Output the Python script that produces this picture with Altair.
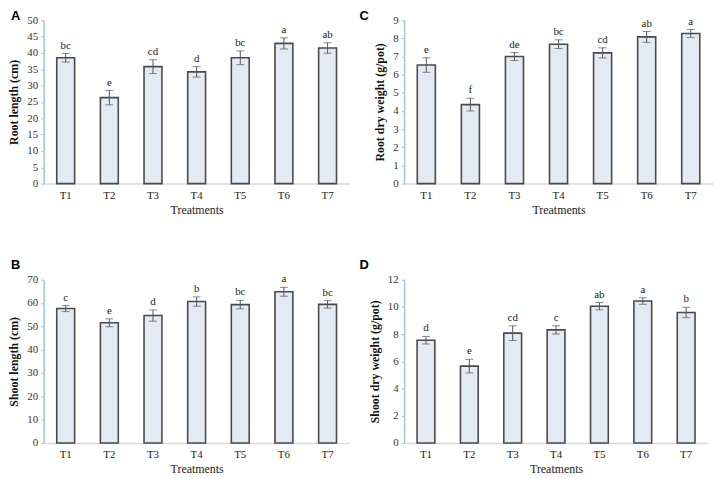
import altair as alt
import pandas as pd

treatments = ["T1", "T2", "T3", "T4", "T5", "T6", "T7"]

root_len = [38.5, 26.3, 35.8, 34.2, 38.5, 42.9, 41.5]
root_len_err = [1.3, 2.2, 2.1, 1.6, 2.1, 1.7, 1.6]
root_len_lbl = ["bc", "e", "cd", "d", "bc", "a", "ab"]

root_dw = [6.53, 4.35, 7.0, 7.68, 7.2, 8.08, 8.27]
root_dw_err = [0.4, 0.35, 0.22, 0.24, 0.28, 0.3, 0.22]
root_dw_lbl = ["e", "f", "de", "bc", "cd", "ab", "a"]

shoot_len = [57.6, 51.5, 54.6, 60.6, 59.3, 64.8, 59.4]
shoot_len_err = [1.3, 1.7, 2.4, 2.0, 1.8, 1.9, 1.6]
shoot_len_lbl = ["c", "e", "d", "b", "bc", "a", "bc"]

shoot_dw = [7.55, 5.65, 8.07, 8.31, 10.05, 10.43, 9.59]
shoot_dw_err = [0.28, 0.5, 0.54, 0.3, 0.27, 0.24, 0.38]
shoot_dw_lbl = ["d", "e", "cd", "c", "ab", "a", "b"]

FONT = "Liberation Serif"


def panel(letter, values, errs, labels, ytitle, ymax, ystep, width, letter_y):
    df = pd.DataFrame({
        "t": treatments,
        "v": values,
        "lo": [v - e for v, e in zip(values, errs)],
        "hi": [v + e for v, e in zip(values, errs)],
        "lbl": labels,
    })
    base = alt.Chart(df)
    xaxis = alt.Axis(labelAngle=0, ticks=False, domainColor="#d9d9d9",
                     domainWidth=1.5, labelFont=FONT, labelFontSize=11,
                     labelColor="#222", labelPadding=6,
                     titleFont=FONT, titleFontSize=12, titleFontWeight="normal",
                     titleColor="#222", titlePadding=4)
    yaxis = alt.Axis(values=list(range(0, ymax + 1, ystep)), grid=False,
                     labelOverlap=False, labelFlush=False,
                     domainColor="#9dc3e6", domainWidth=1.5,
                     tickColor="#9dc3e6", tickSize=3,
                     labelFont=FONT, labelFontSize=11, labelColor="#333",
                     labelPadding=3,
                     titleFont=FONT, titleFontSize=12, titleFontWeight="bold",
                     titleColor="#111", titlePadding=6)
    xscale = alt.Scale(paddingInner=0.59, paddingOuter=0.3)
    yscale = alt.Scale(domain=[0, ymax], nice=False)

    def X():
        return alt.X("t:N", sort=treatments, title="Treatments", scale=xscale, axis=xaxis)

    def Y(field):
        return alt.Y(field, title=ytitle, scale=yscale, axis=yaxis)

    bars = base.mark_bar(fill="#e2eaf4", stroke="#4a4a4a", strokeWidth=1.6).encode(
        x=X(), y=Y("v:Q"))
    rule = base.mark_rule(color="#555", strokeWidth=1).encode(
        x=X(), y=Y("lo:Q"), y2="hi:Q")
    cap_lo = base.mark_tick(color="#555", size=8, thickness=1).encode(
        x=X(), y=Y("lo:Q"))
    cap_hi = base.mark_tick(color="#555", size=8, thickness=1).encode(
        x=X(), y=Y("hi:Q"))
    txt = base.mark_text(font=FONT, fontSize=11, color="#222", baseline="alphabetic",
                         dy=-5).encode(x=X(), y=Y("hi:Q"), text="lbl:N")
    let = alt.Chart(pd.DataFrame({"l": [letter]})).mark_text(
        font="Liberation Sans", fontSize=13, fontWeight="bold", color="#000",
        align="left", baseline="top").encode(
        x=alt.value(-33 if letter in "AB" else -45), y=alt.value(letter_y), text="l:N")
    return alt.layer(bars, rule, cap_lo, cap_hi, txt, let).properties(
        width=width, height=165)


A = panel("A", root_len, root_len_err, root_len_lbl, "Root length (cm)", 50, 5, 309, -10)
C = panel("C", root_dw, root_dw_err, root_dw_lbl, "Root dry weight (g/pot)", 9, 1, 312, -10)
B = panel("B", shoot_len, shoot_len_err, shoot_len_lbl, "Shoot length (cm)", 70, 10, 309, -21)
D = panel("D", shoot_dw, shoot_dw_err, shoot_dw_lbl, "Shoot dry weight (g/pot)", 12, 2, 307, -21)

chart = alt.vconcat(
    alt.hconcat(A, C, spacing=10),
    alt.hconcat(B, D, spacing=10),
    spacing=44,
).properties(padding=0, background="white").configure_view(stroke=None)

chart.save("out.html", embed_options={"renderer": "svg", "actions": False})
